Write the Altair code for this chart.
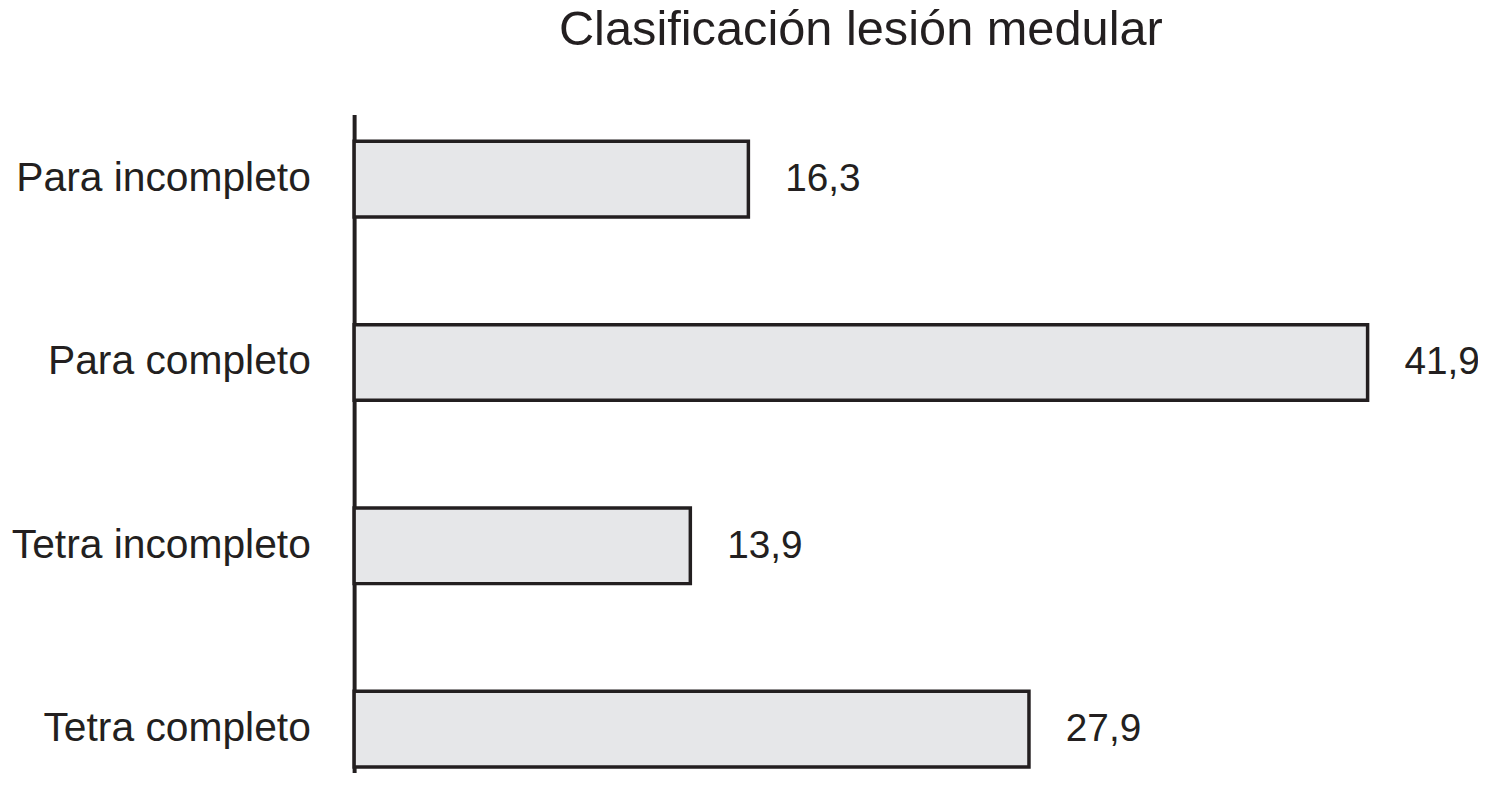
import altair as alt
import pandas as pd

categories = ["Para incompleto", "Para completo", "Tetra incompleto", "Tetra completo"]
values = [16.3, 41.9, 13.9, 27.9]
value_labels = ["16,3", "41,9", "13,9", "27,9"]

df = pd.DataFrame({"cat": categories, "val": values, "lab": value_labels})

INK = "#231f20"
FONT = "Liberation Sans"

y_enc = alt.Y(
    "cat:N",
    sort=categories,
    scale=alt.Scale(range=[0, 683], paddingInner=0.5876, paddingOuter=0.1465),
    axis=alt.Axis(
        title=None,
        ticks=False,
        labelFontSize=41,
        labelFont=FONT,
        labelColor=INK,
        labelPadding=44,
        labelLimit=0,
        domainColor=INK,
        domainWidth=4,
        grid=False,
    ),
)
x_enc = alt.X("val:Q", scale=alt.Scale(domain=[0, 41.9], nice=False, zero=True), axis=None)

bars = alt.Chart(df).mark_bar(fill="#e6e7e9", stroke=INK, strokeWidth=3.5).encode(
    x=x_enc, y=y_enc
)
texts = alt.Chart(df).mark_text(
    align="left", baseline="middle", dx=37, fontSize=39, font=FONT, color=INK
).encode(x=x_enc, y=y_enc, text="lab:N")

chart = (
    alt.layer(bars, texts)
    .properties(
        width=1019,
        height=660,
        autosize=alt.AutoSizeParams(type="none"),
        padding={"left": 348, "top": 105, "right": 111, "bottom": 0},
        title=alt.TitleParams(
            "Clasificación lesión medular",
            fontSize=49,
            font=FONT,
            fontWeight="normal",
            color=INK,
            anchor="middle",
            offset=60,
        ),
    )
    .configure_view(stroke=None)
)

chart.save("out.html", embed_options={"renderer": "svg", "actions": False})
